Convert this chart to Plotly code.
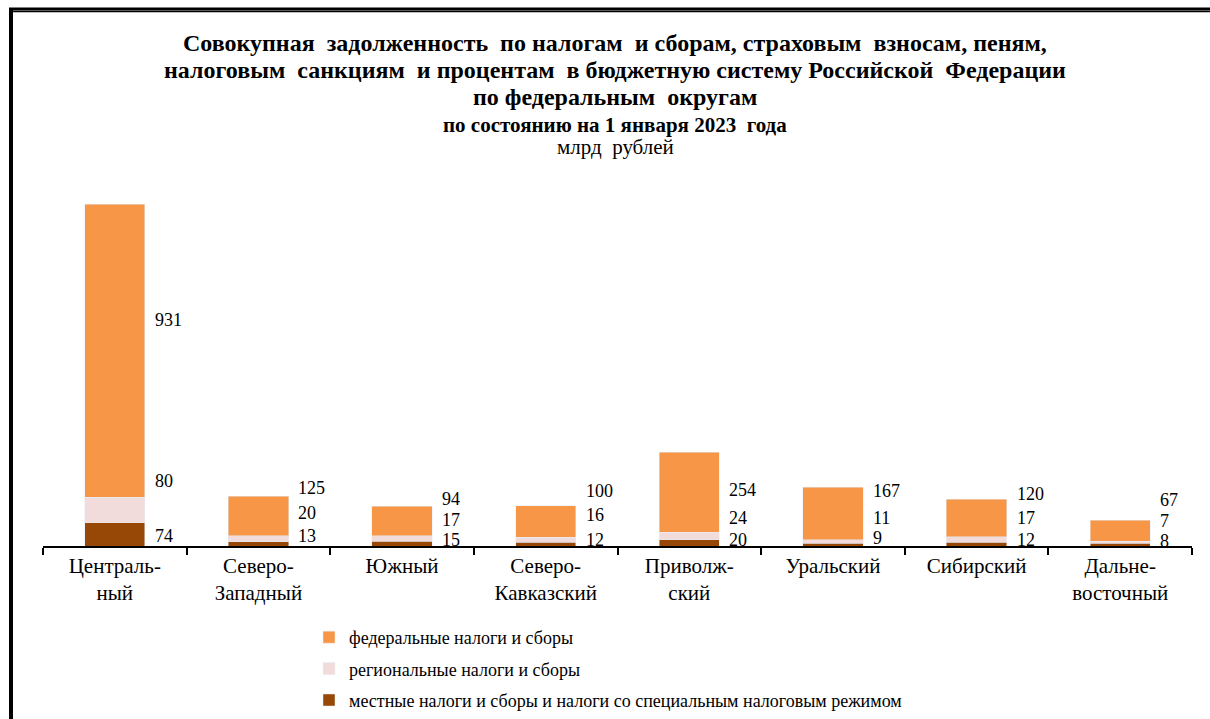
import plotly.graph_objects as go

categories = ["Централь-<br>ный", "Северо-<br>Западный", "Южный", "Северо-<br>Кавказский",
              "Приволж-<br>ский", "Уральский", "Сибирский", "Дальне-<br>восточный"]
federal = [931, 125, 94, 100, 254, 167, 120, 67]
regional = [80, 20, 17, 16, 24, 11, 17, 7]
local = [74, 13, 15, 12, 20, 9, 12, 8]

series_names = ["федеральные налоги и сборы",
                "региональные налоги и сборы",
                "местные налоги и сборы и налоги со специальным налоговым режимом"]

# label vertical offsets (px above the axis) for fed / reg / local labels
fed_shift = [226, 58, 47, 55, 56, 55, 52, 46]
reg_shift = [65, 33, 26, 31, 28, 28, 28, 25]
loc_shift = [10, 10, 6, 6, 6, 8, 6, 5]

C_FED = "#F79646"
C_REG = "#F2DCDB"
C_LOC = "#974706"
FONT = "Liberation Serif"

fig = go.Figure()
fig.add_trace(go.Bar(x=categories, y=local, name=series_names[2], marker_color=C_LOC,
                     legendgroup="c", legendrank=3, hoverinfo="y"))
fig.add_trace(go.Bar(x=categories, y=regional, name=series_names[1], marker_color=C_REG,
                     legendgroup="b", legendrank=2, hoverinfo="y"))
fig.add_trace(go.Bar(x=categories, y=federal, name=series_names[0], marker_color=C_FED,
                     legendgroup="a", legendrank=1, hoverinfo="y"))

annotations = []
for i, cat in enumerate(categories):
    for vals, shifts in ((federal, fed_shift), (regional, reg_shift), (local, loc_shift)):
        annotations.append(dict(x=cat, y=0, xref="x", yref="y", text=str(vals[i]),
                                showarrow=False, xanchor="left", yanchor="middle",
                                xshift=38, yshift=shifts[i],
                                font=dict(family=FONT, size=18, color="black")))

# titles (positions in paper coords; plot area spans y 150..546 px)
def py(pix):
    return (546 - pix) / 396.0

titles = [
    ("<b>Совокупная  задолженность  по налогам  и сборам, страховым  взносам, пеням,</b>", 43, 24),
    ("<b>налоговым  санкциям  и процентам  в бюджетную систему Российской  Федерации</b>", 70, 24),
    ("<b>по федеральным  округам</b>", 97, 24),
    ("<b>по состоянию на 1 января 2023  года</b>", 125, 21),
    ("млрд  рублей", 147, 21),
]
for text, pix, size in titles:
    annotations.append(dict(x=(615 - 43) / 1149.0, y=py(pix), xref="paper", yref="paper",
                            text=text, showarrow=False, xanchor="center", yanchor="middle",
                            font=dict(family=FONT, size=size, color="black")))

def px(pix):
    return (pix - 43) / 1149.0

shapes = [
    dict(type="line", xref="paper", yref="paper", x0=px(9), x1=px(1212), y0=py(9), y1=py(9),
         line=dict(color="black", width=3)),
    dict(type="line", xref="paper", yref="paper", x0=px(9), x1=px(1212), y0=py(11.5), y1=py(11.5),
         line=dict(color="black", width=1.5)),
    dict(type="line", xref="paper", yref="paper", x0=px(11), x1=px(11), y0=py(8), y1=py(725),
         line=dict(color="black", width=4)),
]

fig.update_layout(
    barmode="stack",
    bargap=0.58,
    width=1210, height=719,
    margin=dict(l=43, r=18, t=150, b=173, autoexpand=False),
    paper_bgcolor="white", plot_bgcolor="white",
    font=dict(family=FONT, size=19, color="black"),
    showlegend=True,
    legend=dict(x=px(309), y=py(619), xanchor="left", yanchor="top",
                orientation="v", traceorder="grouped", tracegroupgap=5,
                font=dict(family=FONT, size=18, color="black"),
                itemwidth=30, bgcolor="rgba(0,0,0,0)"),
    annotations=annotations,
    shapes=shapes,
)
fig.update_xaxes(showline=True, linecolor="black", linewidth=1.5, ticks="outside",
                 tickson="boundaries", ticklen=7, tickcolor="black", tickwidth=1.5,
                 tickfont=dict(family=FONT, size=21, color="black"), showgrid=False,
                 fixedrange=True)
fig.update_yaxes(range=[0, 396 / (342 / 1085.0)], visible=False, showgrid=False, fixedrange=True)

fig.write_html("out.html", config={"displayModeBar": False},
               post_script="document.body.style.margin='0';")
